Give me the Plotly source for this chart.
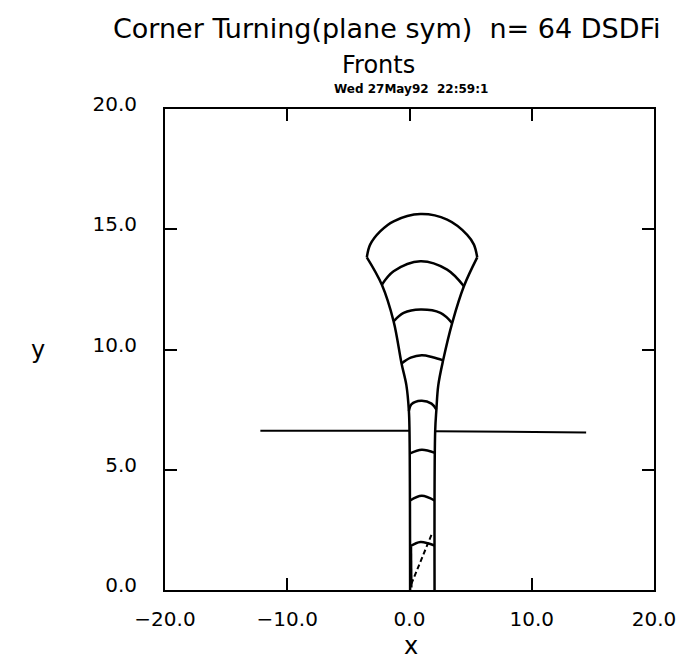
#!/usr/bin/env python3
"""Corner turning fronts (plane sym), redrawn with Plotly."""

import plotly.graph_objects as go

# channel walls and the fan sides they open into
left_side_x = [0.05, 0.0, -0.05, -0.25, -0.65, -1.30, -2.26, -3.49]
left_side_y = [0.0, 6.6, 7.45, 8.5, 9.42, 11.17, 12.69, 13.83]
right_side_x = [2.05, 2.1, 2.2, 2.35, 2.75, 3.49, 4.45, 5.54]
right_side_y = [0.0, 6.6, 7.5, 8.5, 9.55, 11.10, 12.63, 13.83]

# the heavier bit of the left wall near the bottom
wall_thick_x = [0.15, 0.12]
wall_thick_y = [0.1, 1.8]

# horizontal boundary, split by the channel
edge_left_x = [-12.2, 0.0]
edge_left_y = [6.62, 6.62]
edge_right_x = [2.1, 14.45]
edge_right_y = [6.6, 6.55]

# dashed ray in the channel
ray_x = [0.15, 1.8]
ray_y = [0.25, 2.3]

# fronts, bottom to top
fronts = [
    ([0.05, 0.9, 2.05], [1.82, 2.0, 1.85]),
    ([0.05, 1.0, 2.05], [3.72, 3.92, 3.72]),
    ([0.05, 1.0, 2.08], [5.68, 5.83, 5.70]),
    ([-0.05, 0.15, 0.95, 1.8, 2.2], [7.45, 7.72, 7.87, 7.75, 7.5]),
    ([-0.65, 0.1, 1.0, 1.9, 2.75], [9.42, 9.66, 9.76, 9.68, 9.55]),
    ([-1.30, -0.48, 0.9, 2.53, 3.49], [11.17, 11.52, 11.66, 11.52, 11.10]),
    ([-2.26, -1.30, 0.89, 3.08, 4.45], [12.69, 13.25, 13.67, 13.32, 12.63]),
    ([-3.49, -3.22, -2.40, -1.30, 0.89, 3.08, 4.72, 5.27, 5.54],
     [13.83, 14.36, 14.91, 15.33, 15.63, 15.40, 14.77, 14.36, 13.83]),
]

x_ticks = [-20, -10, 0, 10, 20]
y_ticks = [0, 5, 10, 15, 20]

FONT = 'DejaVu Sans'
line = dict(color='black', width=2.5)

fig = go.Figure()
for xs, ys in [(left_side_x, left_side_y), (right_side_x, right_side_y)]:
    fig.add_trace(go.Scatter(x=xs, y=ys, mode='lines', line=dict(line, shape='spline')))
fig.add_trace(go.Scatter(x=wall_thick_x, y=wall_thick_y, mode='lines', line=line))
for xs, ys in [(edge_left_x, edge_left_y), (edge_right_x, edge_right_y)]:
    fig.add_trace(go.Scatter(x=xs, y=ys, mode='lines', line=dict(color='black', width=2)))
fig.add_trace(go.Scatter(x=ray_x, y=ray_y, mode='lines',
                         line=dict(color='black', width=2, dash='5px,3px')))
for xs, ys in fronts:
    fig.add_trace(go.Scatter(x=xs, y=ys, mode='lines', line=dict(line, shape='spline')))

axis = dict(
    showline=True, linecolor='black', linewidth=2, mirror='ticks',
    ticks='inside', ticklen=12, tickwidth=2, tickcolor='black',
    showgrid=False, zeroline=False, tickformat='.1f',
    tickfont=dict(family=FONT, size=20, color='black'),
)
fig.update_xaxes(axis, range=[-20, 20], tickvals=x_ticks, ticklabelstandoff=10)
fig.update_yaxes(axis, range=[0, 20], tickvals=y_ticks,
                 ticklabelstandoff=22, ticklabelshift=-5)

def note(text, x, y, size, bold=False, anchor='center'):
    fig.add_annotation(text=text, x=x, y=y, xref='paper', yref='paper',
                       xanchor=anchor, yanchor='middle', showarrow=False,
                       font=dict(family=FONT, size=size, color='black',
                                 weight='bold' if bold else 'normal'))

note('Corner Turning(plane sym)  n= 64 DSDFi', -0.110, 1.168, 27, anchor='left')
note('Fronts', 0.4376, 1.0915, 24)
note('Wed 27May92  22:59:1', 0.503, 1.0416, 12, bold=True)
note('x', 0.503, -0.117, 24)
note('y', -0.26, 0.5, 24)

fig.update_layout(
    width=685, height=665, autosize=False,
    margin=dict(l=157, r=39, t=101, b=83),
    plot_bgcolor='white', paper_bgcolor='white',
    showlegend=False,
)

fig.write_html('out.html')
